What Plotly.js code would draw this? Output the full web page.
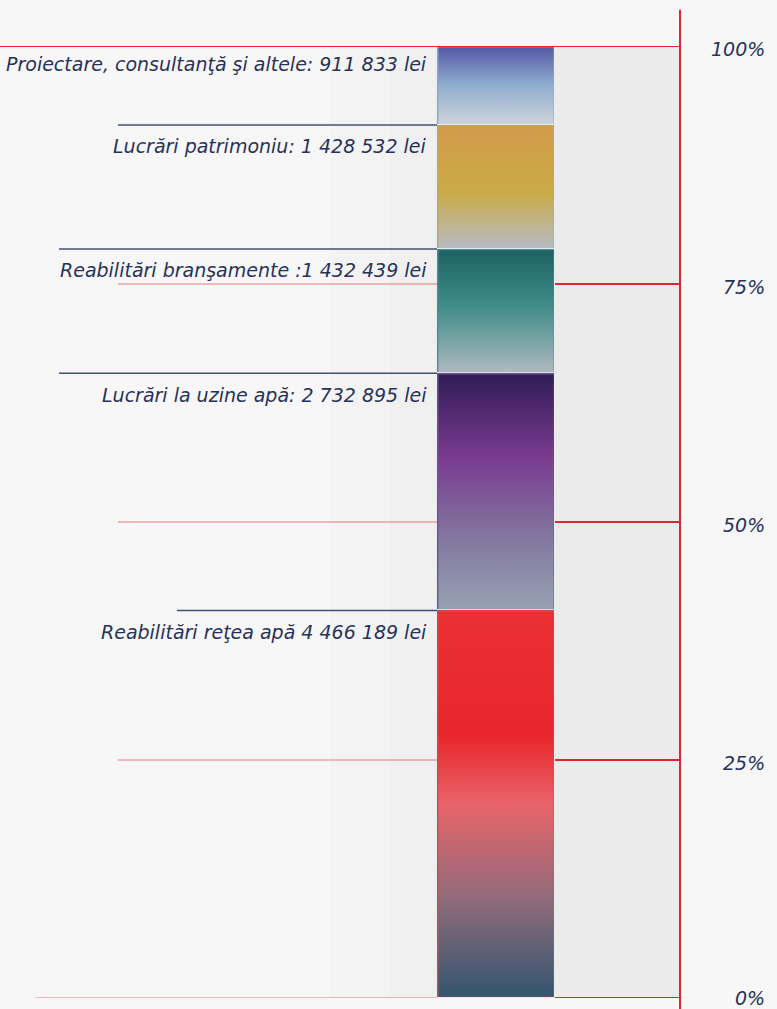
<!DOCTYPE html>
<html>
<head>
<meta charset="utf-8">
<script src="https://cdn.plot.ly/plotly-3.0.1.min.js"></script>
<style>html,body{margin:0;padding:0;background:#f7f7f8;}#chart{width:777px;height:1009px;}</style>
</head>
<body>
<div id="chart"></div>
<script>
// ---- data (bottom to top) ----
const categories = ['Reabilitări reţea apă', 'Lucrări la uzine apă', 'Reabilitări branşamente', 'Lucrări patrimoniu', 'Proiectare, consultanţă şi altele'];
const values = [4466189, 2732895, 1432439, 1428532, 911833];
const labelTexts = ['Reabilitări reţea apă 4 466 189 lei', 'Lucrări la uzine apă: 2 732 895 lei', 'Reabilitări branşamente :1 432 439 lei', 'Lucrări patrimoniu: 1 428 532 lei', 'Proiectare, consultanţă şi altele: 911 833 lei'];
const tickVals = [0, 25, 50, 75, 100];
const tickLabels = ['0%', '25%', '50%', '75%', '100%'];

// ---- styles ----
const solidColors = ['#d8464c', '#6e5590', '#4f8e8c', '#c4a760', '#93a6c6'];
const gradients = [
  [[0, '#33566f'], [0.25, '#8f6b7a'], [0.5, '#e8646a'], [0.68, '#e8262c'], [1, '#ea3034']],
  [[0, '#97a1b2'], [0.3, '#83789f'], [0.65, '#7a3a90'], [1, '#301c55']],
  [[0, '#aeb9bf'], [0.55, '#3e8b88'], [1, '#1d6364']],
  [[0, '#b7bbc4'], [0.45, '#c9ab47'], [1, '#d39b4a']],
  [[0, '#cdd2d8'], [0.5, '#90aed0'], [1, '#5459a5']]
];
const navy = '#27325a';
const red = '#e3262e';
const fontFam = 'DejaVu Sans, Verdana, sans-serif';
const labelShift = [-9, -9, -8, -8, -5];

const total = values.reduce((a, b) => a + b, 0);
const pct = values.map(v => v / total * 100);
const tops = [];
pct.reduce((acc, p, i) => { tops[i] = Math.min(acc + p, 100); return acc + p; }, 0);
const bases = tops.map((t, i) => Math.max(t - pct[i], 0));

const traces = [];
// main stacked bar segments
categories.forEach((c, i) => {
  traces.push({
    type: 'bar', x: ['Total'], y: [pct[i]], name: c,
    width: 1,
    marker: {color: solidColors[i], line: {color: '#e6ecee', width: 1.5}},
    customdata: [values[i]],
    hovertemplate: c + ': %{customdata:,} lei<extra></extra>'
  });
});
// gradient overlays drawn from the same stacked values
const half = 0.5 - 0.012;
categories.forEach((c, i) => {
  traces.push({
    type: 'scatter', mode: 'lines', xaxis: 'x2', yaxis: 'y',
    x: [-half, half, half, -half, -half],
    y: [bases[i] + 0.12, bases[i] + 0.12, tops[i] - 0.12, tops[i] - 0.12, bases[i] + 0.12],
    fill: 'toself', line: {width: 0},
    fillgradient: {type: 'vertical', colorscale: gradients[i]},
    hoverinfo: 'skip', showlegend: false
  });
});

// x range: bar centred at 496 px of a 680 px plot area, bar width 118 px
const unit = 118;
const xr = [-496 / unit, (680 - 496) / unit];

const shapes = [];
const annotations = [];
// grey panel right of the bar
shapes.push({type: 'rect', xref: 'x', yref: 'y', x0: 0.5, x1: xr[1], y0: 0, y1: 100, fillcolor: '#ebebeb', line: {width: 0}, layer: 'below'});
shapes.push({type: 'rect', xref: 'x', yref: 'y', x0: -1.4, x1: -0.5, y0: 0, y1: 100, fillcolor: '#f3f3f4', line: {width: 0}, layer: 'below'});
shapes.push({type: 'rect', xref: 'x', yref: 'y', x0: -0.9, x1: -0.5, y0: 0, y1: 100, fillcolor: '#f0f0f1', line: {width: 0}, layer: 'below'});
// axis line
shapes.push({type: 'line', xref: 'paper', yref: 'paper', x0: 1, x1: 1, y0: -0.02, y1: 1.038, line: {color: red, width: 2}});
// tick lines
tickVals.forEach((t, i) => {
  shapes.push({type: 'line', xref: 'x', yref: 'y', x0: 0.5, x1: xr[1] + 20 / unit, y0: t, y1: t, line: {color: red, width: 2}});
  if (t === 100) {
    shapes.push({type: 'line', xref: 'x', yref: 'y', x0: xr[0], x1: 0.5, y0: t, y1: t, line: {color: red, width: 2}});
  } else {
    shapes.push({type: 'line', xref: 'x', yref: 'y', x0: t === 0 ? xr[0] + 0.3 : xr[0] + 1.0, x1: -0.5, y0: t, y1: t, line: {color: 'rgba(227,38,46,0.6)', width: 1}});
  }
  annotations.push({xref: 'paper', yref: 'y', x: 767 / 680, y: t, xanchor: 'right', yanchor: 'middle', yshift: t === 0 ? 0 : -3,
    text: tickLabels[i], showarrow: false, font: {family: fontFam, size: 19, color: navy, style: 'italic'}});
});
// segment labels and navy leader lines
const lineStart = [1.5, 0.5, 0.5, 1.0, 0];
categories.forEach((c, i) => {
  if (i < categories.length - 1) {
    shapes.push({type: 'line', xref: 'x', yref: 'y', x0: xr[0] + lineStart[i], x1: -0.5, y0: tops[i], y1: tops[i], line: {color: 'rgba(39,50,90,0.85)', width: 1.5}});
  }
  annotations.push({xref: 'x', yref: 'y', x: -0.5 - 8 / unit, y: tops[i], xanchor: 'right', yanchor: 'top', yshift: labelShift[i],
    text: labelTexts[i], showarrow: false, font: {family: fontFam, size: 19, color: navy, style: 'italic'}});
});

const layout = {
  width: 777, height: 1009,
  margin: {l: 0, r: 97, t: 46, b: 11},
  paper_bgcolor: '#f7f7f8', plot_bgcolor: 'rgba(0,0,0,0)',
  barmode: 'stack', bargap: 0, showlegend: false,
  xaxis: {range: xr, visible: false, fixedrange: true},
  xaxis2: {range: xr, visible: false, overlaying: 'x', fixedrange: true},
  yaxis: {range: [0, 100], tickvals: tickVals, showticklabels: false, showgrid: false, zeroline: false, showline: false, fixedrange: true},
  shapes: shapes, annotations: annotations
};

Plotly.newPlot('chart', traces, layout, {displayModeBar: false});
</script>
</body>
</html>
